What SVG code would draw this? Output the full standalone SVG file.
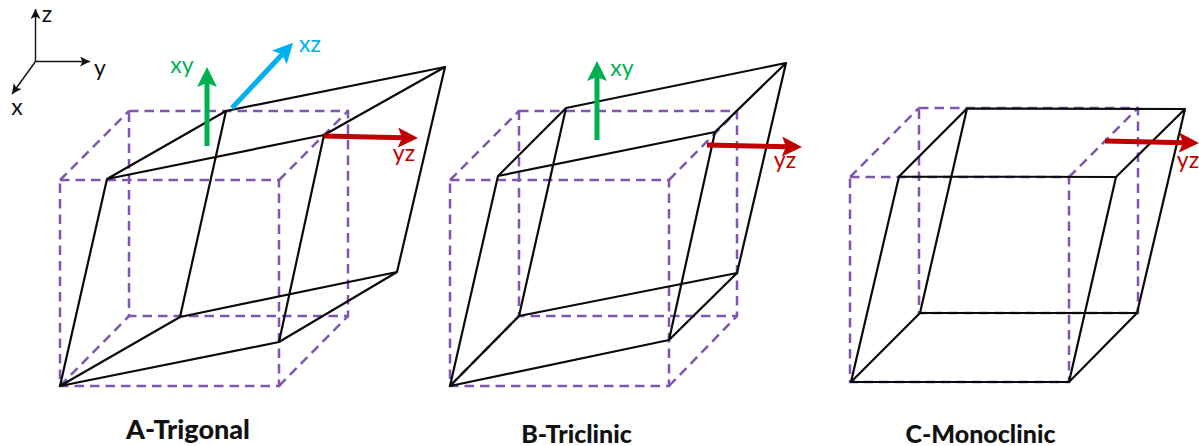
<svg xmlns="http://www.w3.org/2000/svg" width="1199" height="446" viewBox="0 0 1199 446">
<style>
.dash{fill:none;stroke:#7f55b0;stroke-width:2.500;stroke-dasharray:9.500 6}
.solid{fill:none;stroke:#0a0a0a;stroke-width:2.200;stroke-linejoin:round;stroke-linecap:round}
.axis{fill:none;stroke:#111;stroke-width:1.400}
.lbl{font-family:"Lato","Liberation Sans",sans-serif;font-size:23px;text-anchor:middle}
.title{font-family:"Lato","Liberation Sans",sans-serif;font-weight:900;text-anchor:middle;fill:#111}
.g{fill:none;stroke:#00b050;stroke-width:5}
.b{fill:none;stroke:#00b0f0;stroke-width:5}
.r{fill:none;stroke:#c00000;stroke-width:5}
</style>
<defs>
<marker id="ma" markerUnits="userSpaceOnUse" markerWidth="12" markerHeight="10" refX="10" refY="5" orient="auto"><path d="M0,0L10,5L0,10L2.500,5Z" fill="#111"/></marker>
<marker id="mg" markerUnits="userSpaceOnUse" markerWidth="22" markerHeight="22" refX="6" refY="10" orient="auto"><path d="M0,0L20,10L0,20L4,10Z" fill="#00b050"/></marker>
<marker id="mb" markerUnits="userSpaceOnUse" markerWidth="22" markerHeight="22" refX="6" refY="10" orient="auto"><path d="M0,0L20,10L0,20L4,10Z" fill="#00b0f0"/></marker>
<marker id="mr" markerUnits="userSpaceOnUse" markerWidth="22" markerHeight="22" refX="6" refY="10" orient="auto"><path d="M0,0L20,10L0,20L4,10Z" fill="#c00000"/></marker>
</defs>
<g id="axes">
<path class="axis" d="M35.500,61.500L35.500,9" marker-end="url(#ma)"/>
<path class="axis" d="M35.500,61.500L90,61.500" marker-end="url(#ma)"/>
<path class="axis" d="M35.500,61.500L12,94" marker-end="url(#ma)"/>
<text class="lbl" x="47" y="22" fill="#111">z</text>
<text class="lbl" x="100" y="76" fill="#111">y</text>
<text class="lbl" x="17" y="115" fill="#111">x</text>
</g>
<g id="trigonal">
<path class="dash" d="M60,180H279V386H60Z"/>
<path class="dash" d="M129,111H348V316H129Z"/>
<path class="dash" d="M60,180L129,111M279,180L348,111M279,386L348,316M60,386L129,316"/>
<path class="solid" d="M107,179L226,111L445,67L324,135ZM60,386L180,317L397,272L279,342ZM107,179L60,386M226,111L180,317M324,135L279,342M445,67L397,272"/>
<path class="g" d="M207,146L207,81" marker-end="url(#mg)"/>
<path class="b" d="M232,108L283.500,53" marker-end="url(#mb)"/>
<path class="r" d="M324,136L404,137.700" marker-end="url(#mr)"/>
<text class="lbl" x="182" y="73" fill="#00b050">xy</text>
<text class="lbl" x="310" y="52" fill="#00b0f0">xz</text>
<text class="lbl" x="404" y="161" fill="#c00000">yz</text>
<text class="title" font-size="27" x="188" y="439">A-Trigonal</text>
</g>
<g id="triclinic">
<path class="dash" d="M450,180H669V386H450Z"/>
<path class="dash" d="M519,111H737V316H519Z"/>
<path class="dash" d="M450,180L519,111M669,180L737,111M669,386L737,316M450,386L519,316"/>
<path class="solid" d="M498,176L566,108L786,63L715,132ZM450,386L519,316L737,273L669,340ZM498,176L450,386M566,108L519,316M715,132L669,340M786,63L737,273"/>
<path class="g" d="M597,140L597,75" marker-end="url(#mg)"/>
<path class="r" d="M707,145L788,146.700" marker-end="url(#mr)"/>
<text class="lbl" x="622" y="76" fill="#00b050">xy</text>
<text class="lbl" x="785" y="168" fill="#c00000">yz</text>
<text class="title" font-size="25" x="576.500" y="443">B-Triclinic</text>
</g>
<g id="monoclinic">
<path class="dash" d="M850,177H1069V382H850Z"/>
<path class="dash" d="M919,108H1138V313H919Z"/>
<path class="dash" d="M850,177L919,108M1069,177L1138,108"/>
<path class="solid" d="M899,176.500L967,108.500L1185,109L1116,177ZM851,382L920,313L1137,313L1069,382ZM899,176.500L851,382M967,108.500L920,313M1116,177L1069,382M1185,109L1137,313"/>
<path class="r" d="M1105,141L1185,142.700" marker-end="url(#mr)"/>
<text class="lbl" x="1188" y="168" fill="#c00000">yz</text>
<text class="title" font-size="25" x="980.500" y="443">C-Monoclinic</text>
</g>
</svg>
